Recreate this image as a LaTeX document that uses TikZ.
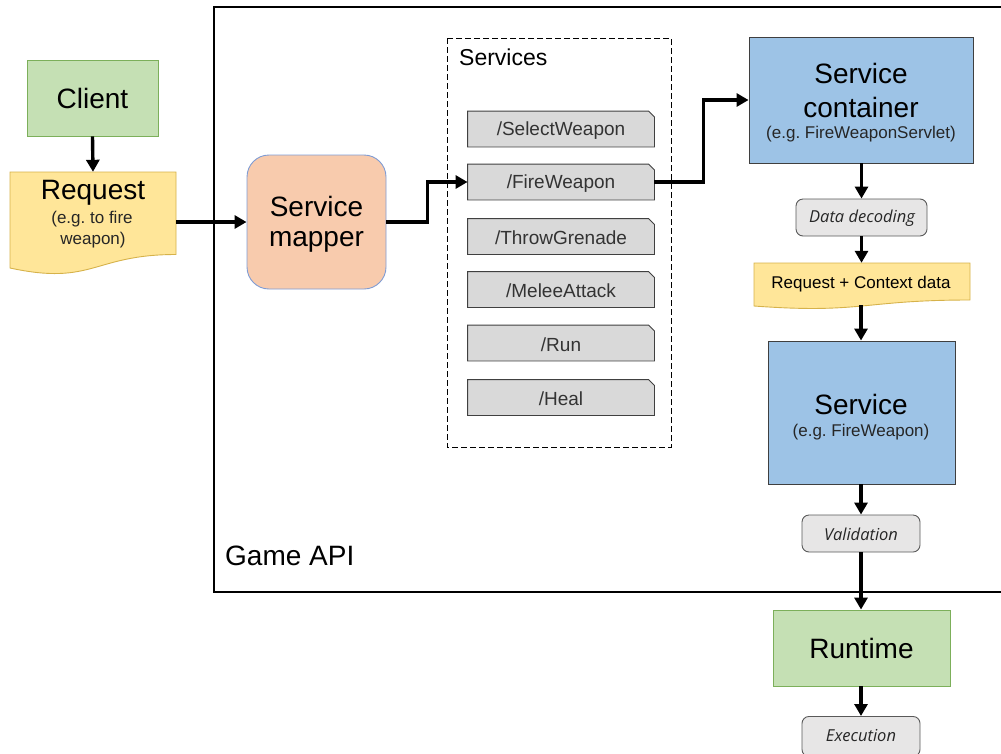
\documentclass[tikz,border=0pt]{standalone}
\usepackage{fontspec}
\setmainfont{Liberation Sans}
\newfontfamily\notefont{Open Sans}
\usetikzlibrary{arrows.meta,backgrounds,calc}
\frenchspacing

\definecolor{gfill}{HTML}{C5E0B4}
\definecolor{gline}{HTML}{7CAF5A}
\definecolor{yfill}{HTML}{FFE699}
\definecolor{yline}{HTML}{D6B24A}
\definecolor{ofill}{HTML}{F8CBAD}
\definecolor{oline}{HTML}{7F9CD4}
\definecolor{bfill}{HTML}{9DC3E6}
\definecolor{bline}{HTML}{3F3F3F}
\definecolor{ifill}{HTML}{D9D9D9}
\definecolor{iline}{HTML}{404040}
\definecolor{sfill}{HTML}{E7E6E6}
\definecolor{sline}{HTML}{595959}

\newcommand{\fs}[1]{\fontsize{#1pt}{#1pt}\selectfont}

\tikzset{
  arr/.style={line width=3.4pt, -{Triangle[length=12pt,width=13pt]}},
  greenbox/.style={draw=gline, fill=gfill, line width=0.9pt, inner sep=0pt},
  bluebox/.style={draw=bline, fill=bfill, line width=0.9pt, inner sep=0pt},
  stepnote/.style={draw=sline, fill=sfill, line width=0.9pt, rounded corners=7pt,
    inner sep=0pt},
  notetext/.style={inner sep=0pt, font=\notefont\itshape\fs{16.5}, text=black!85},
  itemlabel/.style={inner sep=0pt, font=\fs{19}, text=black!80},
  itemshape/.style={draw=iline, fill=ifill, line width=0.9pt, inner sep=0pt,
    minimum width=186pt, minimum height=35pt},
  docshape/.style={draw=yline, fill=yfill, line width=0.9pt},
}

\begin{document}
\begin{tikzpicture}[x=1pt,y=-1pt]
\useasboundingbox (0,0) rectangle (1001,753);

% Game API boundary (open to the right)
\draw[line width=2.4pt] (1001,7) -- (214,7) -- (214,592) -- (1001,592);
\node[anchor=west, inner sep=0pt, font=\fs{28}] (gameapi) at (225,556) {Game API};

% Services group
\draw[line width=1pt, dash pattern=on 6pt off 3pt] (447,38) rectangle (671,447);
\node[anchor=west, inner sep=0pt, font=\fs{23}] (services) at (459,57) {Services};

% Client
\node[greenbox, minimum width=131pt, minimum height=76pt, font=\fs{28}] (client) at (92.5,98) {Client};

% Request document
\draw[docshape] (10,172) -- (176,172) -- (176,254.5) .. controls (93,254.5) and (93,286) .. (10,268) -- cycle;
\node[inner sep=0pt, minimum width=166pt, minimum height=82pt] (request) at (93,213) {};
\node[inner sep=0pt, font=\fs{28}] (reqtitle) at (93,193) {Request};
\node[inner sep=0pt, font=\fs{17}, text=black!85] (reqnote1) at (92,219) {(e.g. to fire};
\node[inner sep=0pt, font=\fs{17}, text=black!85] (reqnote2) at (93,240) {weapon)};

% Service mapper
\node[draw=oline, fill=ofill, line width=0.9pt, rounded corners=22pt, minimum width=139pt,
  minimum height=134pt, inner sep=0pt] (mapper) at (316.5,222) {};
\node[inner sep=0pt, font=\fs{28}] (maptitle1) at (316.5,206) {Service};
\node[inner sep=0pt, font=\fs{28}] (maptitle2) at (316.5,242) {mapper};

% Service endpoints (snipped top-right corner)
\foreach \nm/\txt/\y in {sel/SelectWeapon/129, fire/FireWeapon/182, throw/ThrowGrenade/236.5,
    melee/MeleeAttack/289.5, run/Run/343, heal/Heal/397.5} {
  \path node[itemshape, draw=none, fill=none] (\nm) at (561,\y) {};
  \draw[itemshape] (\nm.south west) -- (\nm.north west) -- ([xshift=-6pt]\nm.north east)
    -- ([yshift=-6pt]\nm.north east) -- (\nm.south east) -- cycle;
  \node[itemlabel] (\nm-label) at (561,\y+1.5) {/\txt};
}

% Service container
\node[bluebox, minimum width=224pt, minimum height=126pt] (container) at (861,100) {};
\node[inner sep=0pt, font=\fs{28}] (contitle1) at (861,73) {Service};
\node[inner sep=0pt, font=\fs{28}] (contitle2) at (861,107) {container};
\node[inner sep=0pt, font=\fs{17}, text=black!85] (connote) at (861,134) {(e.g. FireWeaponServlet)};

% Data decoding
\node[stepnote, minimum width=131pt, minimum height=37pt] (decode) at (861.5,217.5) {};
\node[notetext] (decodelabel) at (862,218) {Data decoding};

% Request + Context data document
\draw[docshape] (754,263) -- (970,263) -- (970,300) .. controls (862,300) and (862,314) .. (754,306) -- cycle;
\node[inner sep=0pt, minimum width=216pt, minimum height=37pt] (ctxdata) at (862,281.5) {};
\node[inner sep=0pt, font=\fs{17}] (ctxlabel) at (861,284) {Request + Context data};
\coordinate (ctxbottom) at (861,305);

% Service
\node[bluebox, minimum width=187pt, minimum height=143pt] (service) at (861.5,412.5) {};
\node[inner sep=0pt, font=\fs{28}] (svctitle) at (861,404) {Service};
\node[inner sep=0pt, font=\fs{17}, text=black!85] (svcnote) at (861,432) {(e.g. FireWeapon)};

% Validation
\node[stepnote, minimum width=118pt, minimum height=37pt] (valid) at (861,533.5) {};
\node[notetext] (validlabel) at (861,534) {Validation};

% Runtime
\node[greenbox, minimum width=177pt, minimum height=76pt, font=\fs{28}] (runtime) at (861.5,648) {Runtime};

% Execution
\node[stepnote, minimum width=118pt, minimum height=40pt, anchor=north] (exec) at (861,716) {};
\node[notetext] (execlabel) at (861,736) {Execution};

% Connectors
\draw[arr] (client.south) -- (request.north);
\draw[arr] (request.east |- mapper.west) -- (mapper.west);
\draw[arr] (mapper.east) -- ([xshift=41pt]mapper.east) |- (fire.west);
\draw[arr] (fire.east) -- ([xshift=49pt]fire.east) |- (container.west);
\draw[arr] (container.south -| decode.north) -- (decode.north);
\draw[arr] (decode.south) -- (ctxdata.north -| decode.south);
\draw[arr] (ctxbottom) -- (service.north -| ctxbottom);
\draw[arr] (service.south -| valid.north) -- (valid.north);
\draw[arr] (valid.south) -- (runtime.north -| valid.south);
\draw[arr] (runtime.south -| exec.north) -- (exec.north);
\end{tikzpicture}
\end{document}
